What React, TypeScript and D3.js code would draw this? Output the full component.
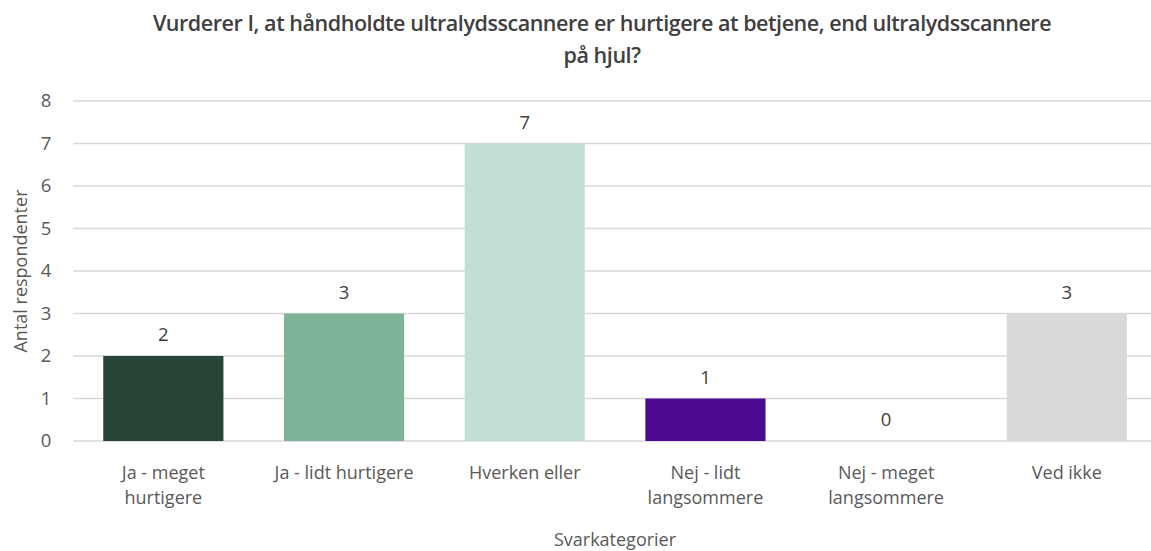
import React from "react";
import * as d3 from "d3";

const categories = ["Ja - meget|hurtigere", "Ja - lidt hurtigere", "Hverken eller", "Nej - lidt|langsommere", "Nej - meget|langsommere", "Ved ikke"];
const values = [2, 3, 7, 1, 0, 3];
const colors = ["#264536", "#7fb398", "#c2dfd3", "#4b0a8f", "#bfbfbf", "#d9d9d9"];
const yTicks = [0, 1, 2, 3, 4, 5, 6, 7, 8];
const titleLines = ["Vurderer I, at håndholdte ultralydsscannere er hurtigere at betjene, end ultralydsscannere", "på hjul?"];

export default function App() {
  const W = 1151, H = 551;
  const left = 73, step = 180.7;
  const x = d3.scaleBand<string>().domain(categories).range([left, left + step * 6]).paddingInner(0.335).paddingOuter(0.1675);
  const y = d3.scaleLinear().domain([0, 8]).range([441, 101]);
  const font = "'Open Sans', sans-serif";
  return (
    <svg width={W} height={H} style={{ position: "absolute", left: 0, top: 0, background: "#fff" }} fontFamily={font}>
      {titleLines.map((t, i) => (
        <text key={i} x={602} y={31 + i * 32} textAnchor="middle" fontSize={21.5} fontWeight={600} fill="#404040" letterSpacing={-0.45}>{t}</text>
      ))}
      {yTicks.map((t) => (
        <g key={t}>
          <line x1={left} x2={W} y1={y(t)} y2={y(t)} stroke="#d9d9d9" strokeWidth={1.5} />
          <text x={46} y={y(t)} dy="0.35em" textAnchor="middle" fontSize={18.5} fill="#595959">{t}</text>
        </g>
      ))}
      {categories.map((c, i) => (
        <g key={c}>
          <rect x={x(c)} y={y(values[i])} width={x.bandwidth()} height={y(0) - y(values[i])} fill={colors[i]} />
          <text x={(x(c) as number) + x.bandwidth() / 2} y={y(values[i]) - 15} textAnchor="middle" fontSize={18.5} fill="#404040">{values[i]}</text>
          {c.split("|").map((l, j) => (
            <text key={j} x={(x(c) as number) + x.bandwidth() / 2} y={479 + j * 25} textAnchor="middle" fontSize={18} fill="#595959">{l}</text>
          ))}
        </g>
      ))}
      <text x={615} y={546} textAnchor="middle" fontSize={18} fill="#595959">Svarkategorier</text>
      <text transform={`translate(27,271) rotate(-90)`} textAnchor="middle" fontSize={18} fill="#595959">Antal respondenter</text>
    </svg>
  );
}
